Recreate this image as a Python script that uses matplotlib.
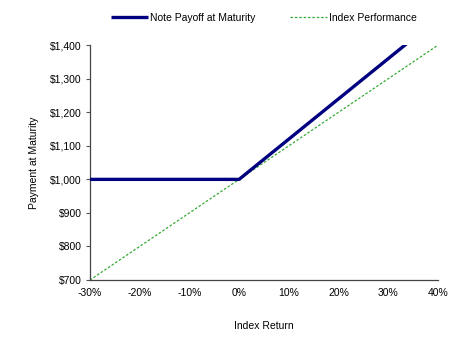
import matplotlib.pyplot as plt
from matplotlib.ticker import FuncFormatter

# payoff profile at three breakpoints (index return in %)
index_return = [-30, 0, 40]
note_payoff = [1000, 1000, 1480]
index_perf = [700, 1000, 1400]

x_ticks = [-30, -20, -10, 0, 10, 20, 30, 40]
y_ticks = [700, 800, 900, 1000, 1100, 1200, 1300, 1400]

plt.rcParams['font.family'] = ['Liberation Sans', 'DejaVu Sans']
plt.rcParams['font.size'] = 7.5

fig = plt.figure(figsize=(4.73, 3.37), dpi=100)
ax = fig.add_axes([0.19, 0.169, 0.736, 0.697])

ax.plot(index_return, note_payoff, color='#000080', lw=2.4,
        solid_capstyle='butt', label='Note Payoff at Maturity', zorder=3)
ax.plot(index_return, index_perf, color='#33aa33', lw=0.9,
        linestyle=(0, (2, 1.5)), label='Index Performance', zorder=2)

ax.set_xlim(-30, 40)
ax.set_ylim(700, 1400)
ax.set_xticks(x_ticks)
ax.set_yticks(y_ticks)
ax.xaxis.set_major_formatter(FuncFormatter(lambda v, p: f'{v:.0f}%'))
ax.yaxis.set_major_formatter(FuncFormatter(lambda v, p: f'${v:,.0f}'))
ax.tick_params(axis='x', length=0, pad=6)
ax.tick_params(axis='y', length=3, width=0.8, color='#555555', pad=3)

for s in ['top', 'right']:
    ax.spines[s].set_visible(False)
for s in ['left', 'bottom']:
    ax.spines[s].set_color('#444444')
    ax.spines[s].set_linewidth(0.9)

ax.set_xlabel('Index Return', labelpad=16)
ax.set_ylabel('Payment at Maturity', labelpad=8)

ax.legend(loc='center', bbox_to_anchor=(0.5, 1.116), ncol=2,
          frameon=False, handlelength=3.6, columnspacing=3.3,
          handletextpad=0.2, borderpad=0)

fig.savefig('out.png', dpi=100)
